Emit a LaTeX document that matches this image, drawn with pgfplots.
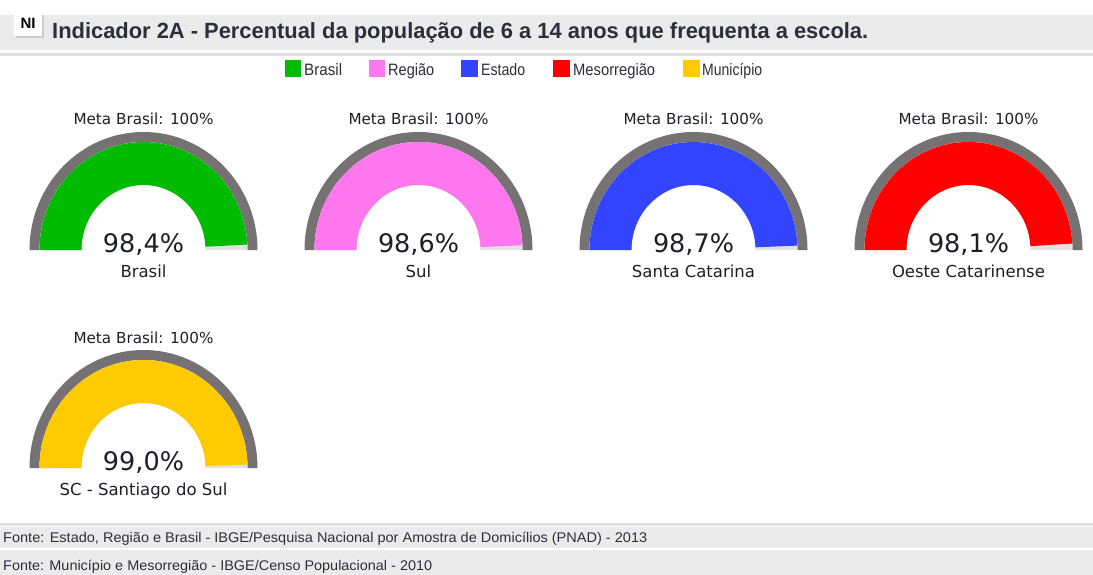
\documentclass[border=0pt]{standalone}
\usepackage{pgfplots}
\pgfplotsset{compat=1.18}
\usetikzlibrary{calc}
\usepackage{graphicx}
\usepackage{fontspec}
\setmainfont{Liberation Sans}
\newfontfamily\gfont{DejaVu Sans}
\definecolor{cbrasil}{HTML}{00BB00}
\definecolor{cregiao}{HTML}{FF77EE}
\definecolor{cestado}{HTML}{3344FF}
\definecolor{cmeso}{HTML}{FF0000}
\definecolor{cmun}{HTML}{FFCA00}
\definecolor{ringgray}{HTML}{767172}
\definecolor{trackgray}{HTML}{E2E2E2}
\definecolor{bandgray}{HTML}{EBEBEB}
\definecolor{txt}{HTML}{1E1E2A}
\definecolor{ttl}{HTML}{2E2E3A}

% #1 cx, #2 cy (pixels, y down), #3 value, #4 colour, #5 value text, #6 label
\newcommand\gauge[6]{%
  \fill[ringgray] ($(axis cs:#1,#2)+(180:114pt and 118pt)$) arc[start angle=180,end angle=0,x radius=114pt,y radius=118pt]
     -- ($(axis cs:#1,#2)+(0:104pt and 108pt)$) arc[start angle=0,end angle=180,x radius=104pt,y radius=108pt] -- cycle;
  \fill[trackgray] ($(axis cs:#1,#2)+(180:104pt and 108pt)$) arc[start angle=180,end angle=0,x radius=104pt,y radius=108pt]
     -- ($(axis cs:#1,#2)+(0:62pt and 65pt)$) arc[start angle=0,end angle=180,x radius=62pt,y radius=65pt] -- cycle;
  \fill[#4] ($(axis cs:#1,#2)+(180:104pt and 108pt)$) arc[start angle=180,end angle={180-1.8*#3},x radius=104pt,y radius=108pt]
     -- ($(axis cs:#1,#2)+({180-1.8*#3}:62pt and 65pt)$) arc[start angle={180-1.8*#3},end angle=180,x radius=62pt,y radius=65pt] -- cycle;
  \node[inner sep=0pt, anchor=base, text=txt, font=\gfont\fontsize{15.2}{18}\selectfont] at ($(axis cs:#1,#2)+(0,125pt)$) {Meta Brasil: 100\%};
  \node[inner sep=0pt, anchor=base, text=txt, font=\gfont\fontsize{25.5}{30}\selectfont] at ($(axis cs:#1,#2)+(0,-2pt)$) {#5};
  \node[inner sep=0pt, anchor=base, text=txt, font=\gfont\fontsize{16.5}{20}\selectfont] at ($(axis cs:#1,#2)+(0,-27pt)$) {#6};
}

\begin{document}
\begin{tikzpicture}
\begin{axis}[
  scale only axis, width=1093pt, height=575pt,
  xmin=0, xmax=1093, ymin=0, ymax=575, y dir=reverse,
  hide axis, clip=false]
\addplot[draw=none] coordinates {(0,0) (1093,575)};
\fill[white] (axis cs:0,0) rectangle (axis cs:1093,575);
% title band
\fill[bandgray] (axis cs:0,15) rectangle (axis cs:1093,50);
\fill[bandgray!90!gray] (axis cs:0,53) rectangle (axis cs:1093,56);
\fill[gray!40] (axis cs:16,15) rectangle (axis cs:44,38);
\fill[white] (axis cs:14,13) rectangle (axis cs:42,36);
\node[inner sep=0pt, font=\bfseries\fontsize{15}{18}\selectfont] at (axis cs:28,23) {NI};
\node[inner sep=0pt, anchor=base west, text=ttl, font=\bfseries\fontsize{22}{26}\selectfont] at (axis cs:52,39)
  {\resizebox{816pt}{\height}{Indicador 2A - Percentual da população de 6 a 14 anos que frequenta a escola.}};
% legend
\fill[cbrasil] (axis cs:285,60) rectangle (axis cs:301,77);
\node[inner sep=0pt, anchor=base west, text=ttl, font=\fontsize{16.5}{19}\selectfont] at (axis cs:304,76) {\resizebox{38pt}{\height}{Brasil}};
\fill[cregiao] (axis cs:369,60) rectangle (axis cs:385,77);
\node[inner sep=0pt, anchor=base west, text=ttl, font=\fontsize{16.5}{19}\selectfont] at (axis cs:388,76) {\resizebox{46pt}{\height}{Região}};
\fill[cestado] (axis cs:461,60) rectangle (axis cs:478,77);
\node[inner sep=0pt, anchor=base west, text=ttl, font=\fontsize{16.5}{19}\selectfont] at (axis cs:481,76) {\resizebox{44pt}{\height}{Estado}};
\fill[cmeso] (axis cs:553,60) rectangle (axis cs:570,77);
\node[inner sep=0pt, anchor=base west, text=ttl, font=\fontsize{16.5}{19}\selectfont] at (axis cs:573,76) {\resizebox{82pt}{\height}{Mesorregião}};
\fill[cmun] (axis cs:683,60) rectangle (axis cs:700,77);
\node[inner sep=0pt, anchor=base west, text=ttl, font=\fontsize{16.5}{19}\selectfont] at (axis cs:702,76) {\resizebox{60pt}{\height}{Município}};
% gauges
\gauge{143.5}{250}{98.4}{cbrasil}{98,4\%}{Brasil}
\gauge{418.5}{250}{98.6}{cregiao}{98,6\%}{Sul}
\gauge{693.5}{250}{98.7}{cestado}{98,7\%}{Santa Catarina}
\gauge{968.5}{250}{98.1}{cmeso}{98,1\%}{Oeste Catarinense}
\gauge{143.5}{468}{99.0}{cmun}{99,0\%}{SC - Santiago do Sul}
% footer
\fill[bandgray!90!gray] (axis cs:0,523) rectangle (axis cs:1093,526);
\fill[bandgray] (axis cs:0,527) rectangle (axis cs:1093,548);
\fill[bandgray] (axis cs:0,550) rectangle (axis cs:1093,575);
\node[inner sep=0pt, anchor=base west, text=ttl, font=\fontsize{14}{17}\selectfont] at (axis cs:3,542.5)
  {\resizebox{644pt}{\height}{Fonte: Estado, Região e Brasil - IBGE/Pesquisa Nacional por Amostra de Domicílios (PNAD) - 2013}};
\node[inner sep=0pt, anchor=base west, text=ttl, font=\fontsize{14}{17}\selectfont] at (axis cs:3,570)
  {\resizebox{429pt}{\height}{Fonte: Município e Mesorregião - IBGE/Censo Populacional - 2010}};
\end{axis}
\end{tikzpicture}
\end{document}
